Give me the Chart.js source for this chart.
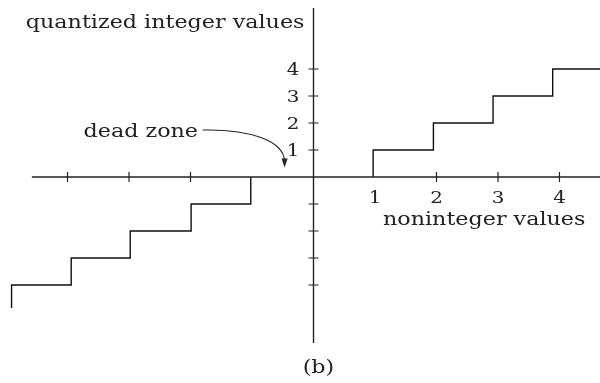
<!DOCTYPE html>
<html>
<head>
<meta charset="utf-8">
<script src="https://cdn.jsdelivr.net/npm/chart.js@4/dist/chart.umd.min.js"></script>
<style>
html,body{margin:0;padding:0;background:#fff;}
#wrap{width:600px;height:383px;position:relative;}
</style>
</head>
<body>
<div id="wrap"><canvas id="c"></canvas></div>
<script>
// Positive staircase: x where each step rises, and the level just before it
const posStepX = [0.97, 1.95, 2.92, 3.89, 4.70];
const posStepY = [0, 1, 2, 3, 4];
// Negative staircase, traced from the origin outward
const negStepX = [-1.02, -1.99, -2.98, -3.94, -4.91, -4.91];
const negStepY = [0, -1, -2, -3, -4, -4.85];
// Axis ticks and labels
const xTicks = [-4, -3, -2, 2, 3, 4];
const xTickLabels = ["1", "2", "3", "4"];
const xTickLabelPos = [1, 2, 3, 4];
const yTicks = [-4, -3, -2, -1, 1, 2, 3, 4];
const yTickLabels = ["1", "2", "3", "4"];
const yTickLabelPos = [1, 2, 3, 4];
// Axis extents
const xAxisRange = [-4.58, 4.66];
const yAxisRange = [-6.15, 6.26];
// Texts
const yTitle = "quantized integer values";
const xTitle = "noninteger values";
const deadZoneLabel = "dead zone";
const caption = "(b)";

const FONT = '"DejaVu Serif", "Liberation Serif", serif';
const STRETCH = 1.17;

function wideText(ctx, txt, x, y, align) {
  ctx.save();
  ctx.translate(x, y);
  ctx.scale(STRETCH, 1);
  ctx.textAlign = align;
  ctx.fillText(txt, 0, 0);
  ctx.restore();
}

const axesPlugin = {
  id: 'axesPlugin',
  afterDatasetsDraw(chart) {
    const ctx = chart.ctx;
    const xs = chart.scales.x, ys = chart.scales.y;
    const X = v => xs.getPixelForValue(v);
    const Y = v => ys.getPixelForValue(v);
    ctx.save();
    ctx.strokeStyle = '#222';
    ctx.lineWidth = 1.4;
    // axes
    ctx.beginPath();
    ctx.moveTo(X(xAxisRange[0]), Y(0)); ctx.lineTo(X(xAxisRange[1]), Y(0));
    ctx.moveTo(X(0), Y(yAxisRange[0])); ctx.lineTo(X(0), Y(yAxisRange[1]));
    ctx.stroke();
    // ticks
    ctx.lineWidth = 1.2;
    ctx.beginPath();
    xTicks.forEach(t => { ctx.moveTo(X(t), Y(0) - 5); ctx.lineTo(X(t), Y(0) + 5); });
    yTicks.forEach(t => { ctx.moveTo(X(0) - 5, Y(t)); ctx.lineTo(X(0) + 5, Y(t)); });
    ctx.stroke();
    // tick labels
    ctx.fillStyle = '#222';
    ctx.font = '17px ' + FONT;
    ctx.textBaseline = 'alphabetic';
    xTickLabels.forEach((l, i) => wideText(ctx, l, X(xTickLabelPos[i]), Y(0) + 26, 'center'));
    yTickLabels.forEach((l, i) => wideText(ctx, l, X(0) - 14, Y(yTickLabelPos[i]) + 6, 'right'));
    // titles
    ctx.font = '19px ' + FONT;
    wideText(ctx, yTitle, X(0) - 9, 28, 'right');
    wideText(ctx, xTitle, X(1.13), Y(0) + 48, 'left');
    wideText(ctx, deadZoneLabel, X(-3.74), Y(1.48), 'left');
    wideText(ctx, caption, X(0.08), 373, 'center');
    // dead zone arrow
    const p0 = [X(-1.80), Y(1.74)], p1 = [X(-1.05), Y(1.78)],
          p2 = [X(-0.47), Y(1.35)], p3 = [X(-0.47), Y(0.55)];
    ctx.lineWidth = 1.1;
    ctx.beginPath();
    ctx.moveTo(p0[0], p0[1]);
    ctx.bezierCurveTo(p1[0], p1[1], p2[0], p2[1], p3[0], p3[1]);
    ctx.stroke();
    const tip = [X(-0.47), Y(0.35)];
    ctx.beginPath();
    ctx.moveTo(tip[0], tip[1]);
    ctx.lineTo(tip[0] - 3, tip[1] - 9);
    ctx.lineTo(tip[0] + 3, tip[1] - 9);
    ctx.closePath();
    ctx.fill();
    ctx.restore();
  }
};

new Chart(document.getElementById('c'), {
  type: 'line',
  data: {
    datasets: [
      {
        data: posStepX.map((x, i) => ({x, y: posStepY[i]})),
        stepped: 'after',
        borderColor: '#111', borderWidth: 1.4, pointRadius: 0, fill: false
      },
      {
        data: negStepX.map((x, i) => ({x, y: negStepY[i]})),
        stepped: 'after',
        borderColor: '#111', borderWidth: 1.4, pointRadius: 0, fill: false
      }
    ]
  },
  options: {
    responsive: true,
    maintainAspectRatio: false,
    animation: false,
    layout: {padding: 0},
    plugins: {legend: {display: false}, tooltip: {enabled: false}},
    scales: {
      x: {type: 'linear', min: -5.098, max: 4.659, display: false},
      y: {type: 'linear', min: -7.63, max: 6.556, display: false}
    }
  },
  plugins: [axesPlugin]
});
</script>
</body>
</html>
